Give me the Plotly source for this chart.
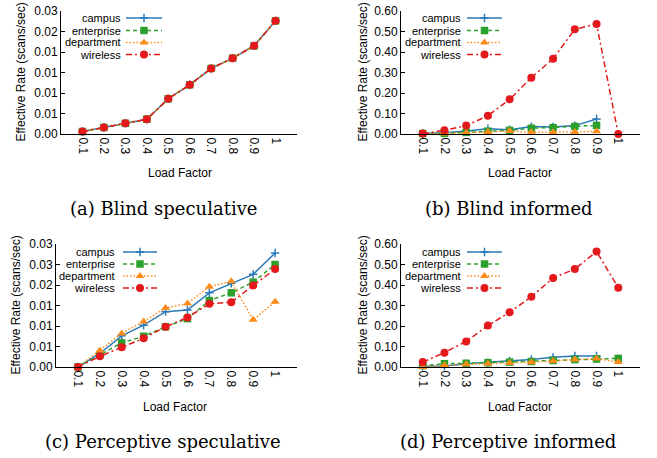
import plotly.graph_objects as go

W, H = 657, 458

load = ["0.1", "0.2", "0.3", "0.4", "0.5", "0.6", "0.7", "0.8", "0.9", "1"]
series_names = ["campus", "enterprise", "department", "wireless"]

# (a) Blind speculative
a_campus = [0.0006, 0.0016, 0.0026, 0.0036, 0.0086, 0.0120, 0.0160, 0.0185, 0.0215, 0.0276]
a_enterprise = [0.0006, 0.0016, 0.0026, 0.0036, 0.0086, 0.0120, 0.0160, 0.0185, 0.0215, 0.0276]
a_department = [0.0006, 0.0016, 0.0026, 0.0036, 0.0086, 0.0120, 0.0160, 0.0185, 0.0215, 0.0276]
a_wireless = [0.0006, 0.0016, 0.0026, 0.0036, 0.0086, 0.0120, 0.0160, 0.0185, 0.0215, 0.0276]

# (b) Blind informed
b_campus = [0.002, 0.006, 0.015, 0.026, 0.021, 0.036, 0.034, 0.041, 0.073, None]
b_enterprise = [0.002, 0.003, 0.008, 0.014, 0.018, 0.028, 0.031, 0.037, 0.042, None]
b_department = [0.001, 0.002, 0.006, 0.010, 0.015, 0.008, 0.008, 0.010, 0.013, None]
b_wireless = [0.002, 0.018, 0.041, 0.089, 0.169, 0.275, 0.367, 0.511, 0.537, 0.0]

# (c) Perceptive speculative
c_campus = [0.0, 0.0033, 0.0076, 0.0102, 0.0135, 0.0139, 0.0181, 0.0204, 0.0226, 0.0278]
c_enterprise = [0.0, 0.0029, 0.0059, 0.0075, 0.0098, 0.0118, 0.0162, 0.0181, 0.0207, 0.0250]
c_department = [0.0, 0.0040, 0.0082, 0.0111, 0.0144, 0.0155, 0.0196, 0.0209, 0.0115, 0.0159]
c_wireless = [0.0, 0.0026, 0.0048, 0.0070, 0.0098, 0.0121, 0.0154, 0.0158, 0.0199, 0.0239]

# (d) Perceptive informed
d_campus = [0.004, 0.005, 0.016, 0.022, 0.030, 0.037, 0.047, 0.054, 0.054, None]
d_enterprise = [0.007, 0.016, 0.018, 0.021, 0.024, 0.027, 0.032, 0.036, 0.039, 0.042]
d_department = [0.0, 0.008, 0.013, 0.016, 0.020, 0.023, 0.029, 0.036, 0.041, 0.024]
d_wireless = [0.024, 0.070, 0.125, 0.202, 0.267, 0.343, 0.434, 0.478, 0.563, 0.387]

small_tickvals = [0.0, 0.005, 0.010, 0.015, 0.020, 0.025, 0.030]
a_ticktext = ["0.00", "0.01", "0.01", "0.01", "0.01", "0.02", "0.03"]
c_ticktext = ["0.00", "0.01", "0.01", "0.01", "0.02", "0.03", "0.03"]
big_tickvals = [0.0, 0.1, 0.2, 0.3, 0.4, 0.5, 0.6]
big_ticktext = ["0.00", "0.10", "0.20", "0.30", "0.40", "0.50", "0.60"]

captions = ["(a) Blind speculative", "(b) Blind informed",
            "(c) Perceptive speculative", "(d) Perceptive informed"]

colors = {"campus": "#2a7ab8", "enterprise": "#2ca02c",
          "department": "#ff8c1a", "wireless": "#e3191c"}
dashes = {"campus": "solid", "enterprise": "4px,3px", "department": "1.5px,2px",
          "wireless": "6px,3px,2px,3px"}
symbols = {"campus": "cross-thin-open", "enterprise": "square",
           "department": "triangle-up", "wireless": "circle"}
msizes = {"campus": 6, "enterprise": 7.5, "department": 8, "wireless": 8}

panels = [
    dict(data=[a_campus, a_enterprise, a_department, a_wireless], tv=small_tickvals, tt=a_ticktext,
         yr=[0, 0.030], px=(61, 297), py=(11, 134), ytitle_x=20, xtitle=(180, 173), cap=(163, 208.5),
         leg_text_x=123, leg_line=(126, 162), leg_y=[18, 30.5, 42.5, 54.5]),
    dict(data=[b_campus, b_enterprise, b_department, b_wireless], tv=big_tickvals, tt=big_ticktext,
         yr=[0, 0.60], px=(401, 640), py=(11, 134), ytitle_x=362, xtitle=(520, 173), cap=(509, 208.5),
         leg_text_x=463, leg_line=(467, 502), leg_y=[18, 30.5, 42.5, 54.5]),
    dict(data=[c_campus, c_enterprise, c_department, c_wireless], tv=small_tickvals, tt=c_ticktext,
         yr=[0, 0.030], px=(56, 297), py=(244, 367), ytitle_x=15, xtitle=(175, 407), cap=(163, 441),
         leg_text_x=117, leg_line=(123, 157), leg_y=[252, 264, 276, 288]),
    dict(data=[d_campus, d_enterprise, d_department, d_wireless], tv=big_tickvals, tt=big_ticktext,
         yr=[0, 0.60], px=(401, 640), py=(244, 367), ytitle_x=362, xtitle=(520, 407), cap=(508, 441),
         leg_text_x=463, leg_line=(467, 502), leg_y=[252, 264, 276, 288]),
]

fig = go.Figure()
annotations = []
layout_axes = {}
sans = "Liberation Sans, Arial, sans-serif"

for i, p in enumerate(panels):
    n = i + 1
    xa = "x" if n == 1 else f"x{n}"
    ya = "y" if n == 1 else f"y{n}"
    for name, vals in zip(series_names, p["data"]):
        fig.add_trace(go.Scatter(
            x=load, y=vals, xaxis=xa, yaxis=ya, name=name, showlegend=False,
            mode="lines+markers", cliponaxis=False,
            line=dict(color=colors[name], width=1.5, dash=dashes[name]),
            marker=dict(symbol=symbols[name], size=msizes[name], color=colors[name],
                        line=dict(color=colors[name], width=1.5 if name == "campus" else 0)),
        ))
    xdom = [p["px"][0] / W, p["px"][1] / W]
    ydom = [1 - p["py"][1] / H, 1 - p["py"][0] / H]
    kx = "xaxis" if n == 1 else f"xaxis{n}"
    ky = "yaxis" if n == 1 else f"yaxis{n}"
    layout_axes[kx] = dict(domain=xdom, anchor=ya, type="category", range=[-1, 10],
                           showgrid=False, zeroline=False, showline=True, linecolor="black",
                           linewidth=1, ticks="", tickangle=90, automargin=False,
                           tickfont=dict(family=sans, size=12, color="black"),
                           fixedrange=True)
    layout_axes[ky] = dict(domain=ydom, anchor=xa, range=p["yr"], tickvals=p["tv"], ticktext=p["tt"],
                           showgrid=False, zeroline=False, showline=True, linecolor="black",
                           linewidth=1, ticks="inside", ticklen=4, tickcolor="black", automargin=False,
                           tickfont=dict(family=sans, size=12, color="black"),
                           fixedrange=True)
    annotations.append(dict(text="Effective Rate (scans/sec)", textangle=-90, xref="paper", yref="paper",
                            x=p["ytitle_x"] / W, y=1 - (p["py"][0] + p["py"][1]) / 2 / H,
                            xanchor="center", yanchor="middle", showarrow=False,
                            font=dict(family=sans, size=12, color="black")))
    annotations.append(dict(text="Load Factor", xref="paper", yref="paper",
                            x=p["xtitle"][0] / W, y=1 - p["xtitle"][1] / H,
                            xanchor="center", yanchor="middle", showarrow=False,
                            font=dict(family=sans, size=12, color="black")))
    annotations.append(dict(text=captions[i], xref="paper", yref="paper",
                            x=p["cap"][0] / W, y=1 - p["cap"][1] / H,
                            xanchor="center", yanchor="middle", showarrow=False,
                            font=dict(family="DejaVu Serif, serif", size=18, color="black")))
    # legend: label on the left, line sample on the right
    for name, ly in zip(series_names, p["leg_y"]):
        annotations.append(dict(text=name, xref="paper", yref="paper",
                                x=p["leg_text_x"] / W, y=1 - ly / H, xanchor="right", yanchor="middle",
                                showarrow=False,
                                font=dict(family=sans, size=11, color="black")))
        x0, x1 = p["leg_line"]
        fig.add_trace(go.Scatter(
            x=[x0, x1], y=[ly, ly], xaxis="x9", yaxis="y9", mode="lines", showlegend=False,
            hoverinfo="skip", line=dict(color=colors[name], width=1.5, dash=dashes[name])))
        fig.add_trace(go.Scatter(
            x=[(x0 + x1) / 2], y=[ly], xaxis="x9", yaxis="y9", mode="markers", showlegend=False,
            hoverinfo="skip", cliponaxis=False,
            marker=dict(symbol=symbols[name], size=msizes[name], color=colors[name],
                        line=dict(color=colors[name], width=1.5 if name == "campus" else 0))))

layout_axes["xaxis9"] = dict(domain=[0, 1], anchor="y9", range=[0, W], visible=False, fixedrange=True)
layout_axes["yaxis9"] = dict(domain=[0, 1], anchor="x9", range=[H, 0], visible=False, fixedrange=True)

fig.update_layout(
    width=W, height=H, margin=dict(l=0, r=0, t=0, b=0),
    paper_bgcolor="white", plot_bgcolor="rgba(0,0,0,0)",
    showlegend=False, annotations=annotations, **layout_axes,
)

fig.write_html("out.html", config={"displayModeBar": False},
               post_script="document.body.style.margin='0px';document.body.style.padding='0px';"
                           "document.body.style.overflow='hidden';")
